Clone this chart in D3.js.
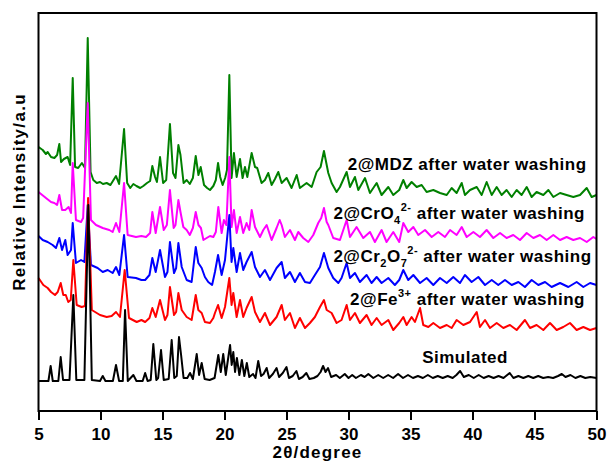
<!DOCTYPE html>
<html>
<head>
<meta charset="utf-8">
<script src="https://cdn.jsdelivr.net/npm/d3@7"></script>
<style>
  html, body { margin: 0; padding: 0; background: #fff; }
  svg { display: block; }
  text { font-family: "Liberation Sans", Arial, sans-serif; font-weight: bold; fill: #000; }
</style>
</head>
<body>
<svg id="chart" width="609" height="467"></svg>
<script>
// PXRD patterns, [2θ (degree), stacked relative intensity (a.u.)]
const mdzWashed = [[5.0,264],[5.34,261],[5.6,257],[5.74,259],[6.01,254],[6.28,253],[6.5,256],[6.68,267],[6.82,249],[7.05,252],[7.35,254],[7.55,246],[7.76,333],[7.95,244],[8.2,243],[8.5,248],[8.75,243],[8.97,373],[9.2,239],[9.42,231],[9.7,228],[9.96,229],[10.2,227],[10.5,228],[10.8,226],[11.05,231],[11.25,235],[11.5,227],[11.9,282],[12.15,228],[12.4,223],[12.65,227],[12.9,225],[13.2,223],[13.45,225],[13.75,228],[14.0,230],[14.18,245],[14.4,234],[14.55,229],[14.8,254],[15.05,228],[15.3,231],[15.6,287],[15.85,238],[16.05,233],[16.28,266],[16.45,256],[16.7,228],[16.95,231],[17.2,227],[17.45,233],[17.68,255],[17.9,236],[18.08,244],[18.35,226],[18.6,223],[18.83,221],[19.1,225],[19.3,231],[19.48,248],[19.65,234],[19.85,226],[20.05,233],[20.2,241],[20.39,336],[20.57,233],[20.76,258],[20.98,234],[21.25,252],[21.46,233],[21.65,244],[21.84,234],[22.19,258],[22.46,244],[22.64,243],[22.99,228],[23.26,231],[23.53,238],[23.8,226],[24.07,232],[24.34,239],[24.61,228],[25.01,233],[25.41,223],[25.82,236],[26.08,223],[26.62,228],[27.03,224],[27.43,239],[27.75,244],[28.02,260],[28.37,238],[28.64,228],[29.04,219],[29.31,224],[29.85,239],[30.12,224],[30.52,234],[30.79,221],[31.33,233],[31.73,218],[32.27,228],[32.67,216],[33.21,224],[33.61,216],[34.09,221],[34.42,231],[34.69,223],[35.09,229],[35.5,224],[35.9,226],[36.3,219],[36.84,221],[37.38,218],[37.92,216],[38.32,223],[38.72,218],[39.13,228],[39.39,216],[39.8,221],[40.34,224],[40.74,216],[41.14,229],[41.55,216],[41.95,224],[42.35,216],[42.75,221],[43.16,214],[43.56,221],[43.96,216],[44.37,224],[44.77,214],[45.17,219],[45.71,216],[46.12,221],[46.52,214],[47.06,218],[47.59,216],[48.13,214],[48.67,216],[49.21,223],[49.61,214],[50.0,216]];

const cro4Washed = [[5.0,219],[5.3,216],[5.6,213],[6.01,209],[6.28,208],[6.5,206],[6.68,216],[6.9,201],[7.16,201],[7.43,204],[7.62,198],[7.76,248],[8.02,191],[8.43,189],[8.6,193],[8.97,308],[9.23,191],[9.64,186],[10.18,183],[10.71,181],[10.98,179],[11.25,188],[11.52,179],[11.9,228],[12.19,176],[12.86,174],[13.3,175],[13.67,174],[14.0,178],[14.18,199],[14.45,178],[14.8,204],[15.1,181],[15.35,186],[15.6,221],[15.9,183],[16.05,186],[16.28,211],[16.45,199],[16.68,184],[16.95,181],[17.2,176],[17.45,183],[17.68,199],[17.9,186],[18.1,183],[18.3,171],[18.56,173],[18.83,175],[19.1,174],[19.3,179],[19.5,204],[19.77,178],[19.95,191],[20.15,186],[20.39,254],[20.57,184],[20.76,201],[20.98,178],[21.25,194],[21.51,178],[21.78,188],[22.0,181],[22.19,201],[22.46,184],[22.86,174],[23.13,181],[23.4,186],[23.8,171],[24.2,183],[24.45,191],[24.61,186],[24.87,174],[25.28,181],[25.68,171],[25.95,179],[26.35,173],[26.76,169],[27.16,176],[27.56,188],[27.8,193],[28.02,203],[28.24,189],[28.37,186],[28.77,173],[29.31,171],[29.85,191],[30.12,174],[30.65,184],[31.19,173],[31.73,179],[32.13,169],[32.67,181],[33.07,169],[33.61,179],[34.09,169],[34.42,188],[34.82,179],[35.23,184],[35.63,176],[36.17,181],[36.71,174],[37.24,179],[37.78,174],[38.19,181],[38.72,176],[39.13,184],[39.53,174],[40.07,179],[40.6,174],[41.14,181],[41.68,173],[42.22,178],[42.75,173],[43.29,176],[43.83,171],[44.37,178],[44.91,173],[45.44,176],[45.98,171],[46.52,176],[47.06,171],[47.59,174],[48.13,171],[48.67,173],[49.21,169],[49.74,174],[50.0,172]];

const cr2o7Washed = [[5.0,175],[5.34,171],[5.74,169],[6.14,166],[6.41,163],[6.68,173],[6.9,161],[7.16,171],[7.35,156],[7.62,161],[7.76,188],[8.02,148],[8.43,151],[8.7,149],[8.97,206],[9.23,146],[9.77,143],[10.18,139],[10.58,141],[10.98,138],[11.25,144],[11.52,136],[11.9,176],[12.19,134],[12.86,133],[13.3,131],[13.6,131],[13.95,136],[14.18,153],[14.45,139],[14.8,161],[15.2,134],[15.4,139],[15.6,169],[15.93,138],[16.1,143],[16.28,168],[16.55,144],[16.95,131],[17.35,129],[17.68,164],[17.89,148],[18.16,143],[18.42,134],[18.69,129],[19.0,126],[19.23,139],[19.48,156],[19.77,136],[20.04,151],[20.39,196],[20.57,149],[20.71,163],[20.98,139],[21.25,158],[21.51,141],[21.78,149],[22.19,159],[22.46,144],[22.86,134],[23.26,141],[23.67,131],[24.2,143],[24.61,149],[24.87,133],[25.28,139],[25.68,129],[26.08,138],[26.49,129],[26.89,128],[27.29,136],[27.7,144],[28.02,158],[28.37,143],[28.77,133],[29.18,128],[29.44,133],[29.85,148],[30.12,133],[30.52,138],[30.92,129],[31.46,136],[31.86,128],[32.27,134],[32.67,128],[33.21,133],[33.74,126],[34.09,131],[34.42,141],[34.82,131],[35.23,136],[35.77,128],[36.3,133],[36.84,126],[37.38,133],[37.92,128],[38.45,134],[38.99,128],[39.39,136],[39.93,129],[40.47,134],[41.01,126],[41.55,131],[42.08,126],[42.62,131],[43.16,126],[43.7,129],[44.23,124],[44.77,131],[45.31,126],[45.85,129],[46.38,124],[47.06,128],[47.73,124],[48.4,129],[48.94,124],[49.48,128],[50.0,126]];

const feWashed = [[5.0,133],[5.39,126],[5.74,123],[6.01,119],[6.33,116],[6.55,119],[6.79,128],[7.0,116],[7.2,116],[7.4,109],[7.6,111],[7.81,151],[8.08,106],[8.48,104],[8.75,105],[9.0,213],[9.3,101],[9.96,96],[10.5,94],[10.9,95],[11.25,99],[11.57,94],[11.95,141],[12.3,93],[12.92,89],[13.3,91],[13.6,89],[13.95,93],[14.18,103],[14.45,94],[14.8,111],[15.2,91],[15.4,96],[15.6,124],[15.93,96],[16.1,99],[16.28,118],[16.55,101],[16.95,94],[17.35,91],[17.68,116],[17.89,101],[18.16,98],[18.42,89],[18.83,88],[19.1,93],[19.23,98],[19.48,106],[19.77,93],[20.04,104],[20.39,133],[20.57,106],[20.71,118],[20.98,94],[21.25,111],[21.51,94],[21.78,103],[22.19,114],[22.46,99],[22.86,89],[23.26,98],[23.67,86],[24.2,94],[24.61,106],[24.87,91],[25.28,98],[25.68,83],[26.08,93],[26.49,83],[26.89,88],[27.29,94],[27.7,104],[28.02,111],[28.24,101],[28.64,98],[29.04,88],[29.44,91],[29.85,106],[30.12,91],[30.52,98],[30.92,88],[31.46,96],[31.86,86],[32.27,93],[32.67,86],[33.21,91],[33.61,81],[34.09,88],[34.42,94],[34.69,86],[35.09,94],[35.36,89],[35.77,103],[36.03,86],[36.44,84],[36.84,88],[37.38,83],[37.92,86],[38.32,83],[38.72,91],[39.26,86],[39.8,89],[40.34,99],[40.6,84],[41.01,91],[41.41,83],[41.95,88],[42.49,83],[43.02,86],[43.56,81],[44.23,91],[44.64,83],[45.17,86],[45.71,81],[46.25,88],[46.79,81],[47.32,84],[47.86,88],[48.4,81],[48.94,84],[49.48,81],[50.0,83]];

const simulated = [[5.0,30],[5.5,30],[5.8,30],[5.98,45],[6.15,30],[6.6,30],[6.79,54],[6.98,31],[7.5,31],[7.81,116],[8.05,31],[8.7,31],[9.02,206],[9.3,31],[9.96,30],[10.18,35],[10.4,30],[11.0,30],[11.25,46],[11.5,30],[11.8,30],[11.98,101],[12.2,30],[12.65,36],[12.9,30],[13.4,30],[13.6,38],[13.8,30],[14.05,31],[14.26,67],[14.5,31],[14.65,33],[14.88,61],[15.1,31],[15.5,32],[15.74,71],[15.95,33],[16.15,35],[16.33,74],[16.5,56],[16.7,33],[17.0,33],[17.22,38],[17.45,32],[17.76,57],[17.95,36],[18.16,48],[18.4,32],[18.8,31],[19.2,33],[19.5,56],[19.7,39],[19.9,57],[20.1,36],[20.45,66],[20.58,46],[20.71,59],[20.85,39],[21.0,53],[21.2,36],[21.4,51],[21.6,35],[21.8,48],[22.0,34],[22.3,37],[22.5,33],[22.72,50],[22.95,35],[23.15,37],[23.4,43],[23.6,33],[23.9,37],[24.2,43],[24.4,34],[24.7,38],[25.0,44],[25.2,33],[25.5,35],[25.8,40],[26.0,32],[26.3,34],[26.6,38],[26.85,32],[27.2,33],[27.5,35],[27.75,39],[27.95,45],[28.15,39],[28.35,43],[28.6,34],[29.0,36],[29.3,33],[29.7,37],[30.0,33],[30.3,36],[30.6,33],[31.0,36],[31.3,34],[31.6,37],[32.0,33],[32.4,36],[32.8,33],[33.2,36],[33.6,33],[34.0,37],[34.4,33],[34.8,36],[35.2,33],[35.6,35],[36.0,33],[36.4,36],[36.8,33],[37.2,35],[37.6,33],[38.0,35],[38.4,33],[38.7,36],[39.0,40],[39.3,34],[39.7,36],[40.1,33],[40.5,36],[40.9,33],[41.3,35],[41.7,33],[42.1,35],[42.5,33],[43.0,38],[43.3,33],[43.7,35],[44.1,33],[44.5,35],[44.9,33],[45.3,35],[45.7,33],[46.1,34],[46.5,33],[46.9,35],[47.2,37],[47.5,34],[47.9,36],[48.3,33],[48.7,35],[49.1,33],[49.5,34],[50.0,33]];

// Drawn bottom-up so the lower patterns sit on top of the upper ones
const patterns = [mdzWashed, cro4Washed, cr2o7Washed, feWashed, simulated];
const colors = ["#008000", "#ff00ff", "#0000ff", "#ff0000", "#000000"];
const xTicks = [5, 10, 15, 20, 25, 30, 35, 40, 45, 50];

const svg = d3.select("#chart");
const x = d3.scaleLinear().domain([5, 50]).range([38.5, 596.5]);
const y = d3.scaleLinear().domain([0, 398]).range([411, 13]);

const line = d3.line().x(d => x(d[0])).y(d => y(d[1]));

svg.append("g")
  .selectAll("path")
  .data(patterns)
  .join("path")
  .attr("d", line)
  .attr("fill", "none")
  .attr("stroke", (d, i) => colors[i])
  .attr("stroke-width", 2)
  .attr("stroke-linejoin", "round");

// frame
svg.append("rect")
  .attr("x", x(5)).attr("y", y(398))
  .attr("width", x(50) - x(5)).attr("height", y(0) - y(398))
  .attr("fill", "none").attr("stroke", "#000").attr("stroke-width", 2);

// bottom axis
const xAxis = svg.append("g")
  .attr("transform", `translate(0,${y(0)})`)
  .call(d3.axisBottom(x).tickValues(xTicks).tickFormat(d3.format("d"))
    .tickSizeInner(9).tickSizeOuter(0).tickPadding(8));
xAxis.select(".domain").remove();
xAxis.selectAll(".tick line").attr("stroke", "#000").attr("stroke-width", 2);
xAxis.selectAll(".tick text")
  .attr("font-family", "Liberation Sans, Arial, sans-serif")
  .attr("font-weight", "bold").attr("font-size", 17).attr("fill", "#000");

// axis titles
svg.append("text")
  .attr("x", (x(5) + x(50)) / 2).attr("y", 458)
  .attr("text-anchor", "middle").attr("font-size", 17)
  .attr("letter-spacing", 1.2)
  .text("2θ/degree");

svg.append("text")
  .attr("transform", "translate(25,192) rotate(-90)")
  .attr("text-anchor", "middle").attr("font-size", 17)
  .attr("letter-spacing", 1.3)
  .text("Relative Intensity/a.u");

// pattern labels
function label(xv, yv, parts, anchor) {
  const t = svg.append("text")
    .attr("x", x(xv)).attr("y", y(yv))
    .attr("text-anchor", anchor || "end")
    .attr("font-size", 17).attr("letter-spacing", 0.5);
  parts.forEach(p => {
    const s = t.append("tspan").text(p.t);
    if (p.dy) s.attr("dy", p.dy);
    if (p.dx) s.attr("dx", p.dx);
    if (p.fs) s.attr("font-size", p.fs);
  });
}

label(49.2, 241, [{ t: "2@MDZ after water washing" }]);
label(49.07, 192, [
  { t: "2@CrO" }, { t: "4", dy: 5, fs: 11 }, { t: "2-", dy: -13, fs: 11 },
  { t: " after water washing", dy: 8 }
]);
label(49.6, 149, [
  { t: "2@Cr" }, { t: "2", dy: 5, fs: 11 }, { t: "O", dy: -5 }, { t: "7", dy: 5, fs: 11 },
  { t: "2-", dy: -13, fs: 11 }, { t: " after water washing", dy: 8 }
]);
label(49.07, 106, [
  { t: "2@Fe" }, { t: "3+", dy: -8, fs: 11 }, { t: " after water washing", dy: 8 }
]);
label(39.4, 48, [{ t: "Simulated" }], "middle");
</script>
</body>
</html>
